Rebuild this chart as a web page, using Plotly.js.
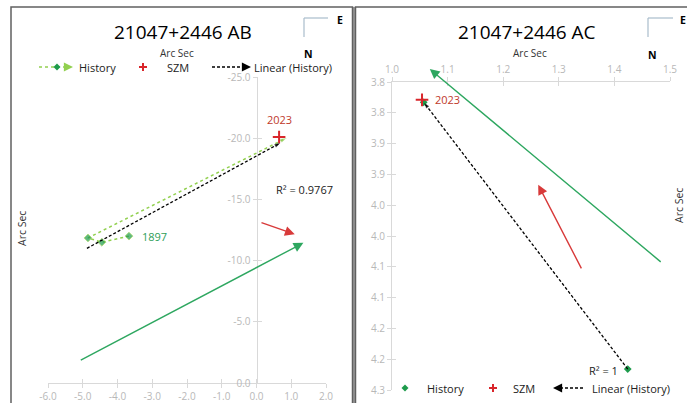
<!DOCTYPE html>
<html><head><meta charset="utf-8">
<script src="https://cdn.plot.ly/plotly-3.0.1.min.js"></script>
<style>html,body{margin:0;padding:0;background:#fff}</style>
</head><body><div id="chart" style="width:687px;height:403px"></div>
<script>
// ---------- DATA: 21047+2446 AB ----------
const abHistX = [-3.67, -4.45, -4.85, 0.85];
const abHistY = [-12.0, -11.5, -11.85, -20.0];
const abSzmX = [0.65];
const abSzmY = [-20.1];
const abTrendX = [-4.88, 0.68];
const abTrendY = [-11.0, -19.6];
const abRedArrowX = [0.1, 1.1];
const abRedArrowY = [-13.15, -12.15];
const abGreenArrowX = [-5.1, 1.35];
const abGreenArrowY = [-1.8, -11.45];
const abXTickVals = [-6, -5, -4, -3, -2, -1, 0, 1, 2];
const abXTickText = ['-6.0', '-5.0', '-4.0', '-3.0', '-2.0', '-1.0', '0.0', '1.0', '2.0'];
const abYTickVals = [0, -5, -10, -15, -20, -25];
const abYTickText = ['0.0', '-5.0', '-10.0', '-15.0', '-20.0', '-25.0'];
const abFirstLabel = {text: '1897', x: -3.35, y: -11.95};
const abLastLabel = {text: '2023', x: 0.65, y: -21.5};
const abR2 = {text: 'R² = 0.9767', x: 0.5, y: -15.8};

// ---------- DATA: 21047+2446 AC ----------
const acHistX = [1.424, 1.057];
const acHistY = [4.216, 3.783];
const acSzmX = [1.054];
const acSzmY = [3.779];
const acTrendX = [1.424, 1.058];
const acTrendY = [4.216, 3.784];
const acRedArrowX = [1.342, 1.263];
const acRedArrowY = [4.055, 3.917];
const acGreenArrowX = [1.486, 1.068];
const acGreenArrowY = [4.044, 3.729];
const acXTickVals = [1.0, 1.1, 1.2, 1.3, 1.4, 1.5];
const acXTickText = ['1.0', '1.1', '1.2', '1.3', '1.4', '1.5'];
const acYTickVals = [3.75, 3.80, 3.85, 3.90, 3.95, 4.00, 4.05, 4.10, 4.15, 4.20, 4.25];
const acYTickText = ['3.8', '3.8', '3.9', '3.9', '4.0', '4.0', '4.1', '4.1', '4.2', '4.2', '4.3'];
const acLastLabel = {text: '2023', x: 1.074, y: 3.779};
const acR2 = {text: 'R² = 1', x: 1.351, y: 4.218};

// ---------- STYLE / LAYOUT ----------
const W = 687, H = 403;
const PX = v => v / W, PY = v => 1 - v / H;
const FONT = 'Open Sans, Noto Sans, sans-serif';
const tickGray = '#b8b8b8', axGray = '#d9d9d9';
const dGreen = '#1e9b4c', lGreen = '#92d050', aGreen = '#2ea760', red = '#d9262b', lblRed = '#c0392b';

function arrowHead(xs, ys, color, xa, ya) {
  return {x: xs.slice(-2), y: ys.slice(-2), xaxis: xa, yaxis: ya, mode: 'markers', cliponaxis: false,
    marker: {symbol: 'arrow', size: [0, 6], color: color, angleref: 'previous', line: {width: 0}},
    hoverinfo: 'skip', showlegend: false};
}

const traces = [
  {x: abHistX, y: abHistY, xaxis: 'x', yaxis: 'y', mode: 'lines+markers', name: 'History',
   line: {color: lGreen, dash: 'dot', width: 1.5},
   marker: {symbol: 'diamond', size: [6, 6, 6, 0], color: dGreen}, cliponaxis: false, showlegend: false},
  arrowHead(abHistX, abHistY, '#8fcf5c', 'x', 'y'),
  {x: abSzmX, y: abSzmY, xaxis: 'x', yaxis: 'y', mode: 'markers', name: 'SZM',
   marker: {symbol: 'cross-thin', size: 9, line: {color: red, width: 2}}, cliponaxis: false, showlegend: false},
  {x: abTrendX, y: abTrendY, xaxis: 'x', yaxis: 'y', mode: 'lines', name: 'Linear (History)',
   line: {color: '#000', dash: '3px,2px', width: 1.3}, showlegend: false},
  arrowHead(abTrendX, abTrendY, '#000', 'x', 'y'),

  {x: acHistX, y: acHistY, xaxis: 'x2', yaxis: 'y2', mode: 'markers', name: 'History',
   marker: {symbol: 'diamond', size: 6, color: dGreen}, cliponaxis: false, showlegend: false},
  {x: acSzmX, y: acSzmY, xaxis: 'x2', yaxis: 'y2', mode: 'markers', name: 'SZM',
   marker: {symbol: 'cross-thin', size: 9, line: {color: red, width: 2}}, cliponaxis: false, showlegend: false},
  {x: acTrendX, y: acTrendY, xaxis: 'x2', yaxis: 'y2', mode: 'lines', name: 'Linear (History)',
   line: {color: '#000', dash: '3px,2px', width: 1.3}, showlegend: false},
  arrowHead(acTrendX, acTrendY, '#000', 'x2', 'y2'),
  // dummy traces for the overlay (inner tick) axes
  {x: [], y: [], xaxis: 'x3', yaxis: 'y3', showlegend: false},
  {x: [], y: [], xaxis: 'x4', yaxis: 'y4', showlegend: false}
];

const baseAx = {showgrid: false, zeroline: false, showline: true, linecolor: axGray, linewidth: 1,
  ticks: 'outside', ticklen: 4, tickcolor: axGray, tickwidth: 1, tickmode: 'array',
  tickfont: {family: FONT, size: 10, color: tickGray}, fixedrange: true};
const innerAx = {showgrid: false, zeroline: false, showline: false, ticks: 'inside', ticklen: 4,
  tickcolor: axGray, tickwidth: 1, tickmode: 'array', showticklabels: false, fixedrange: true};

const abXDom = [PX(48), PX(326)], abYDom = [PY(383), PY(77)];
const abYPos = abXDom[0] + (abXDom[1] - abXDom[0]) * (0 - (-6)) / 8;
const acXDom = [PX(392), PX(670)], acYDom = [PY(390), PY(82)];

function ann(text, x, y, opts) {
  return Object.assign({text: text, x: x, y: y, xref: 'paper', yref: 'paper', showarrow: false,
    font: {family: FONT, size: 11, color: '#222'}, xanchor: 'center', yanchor: 'middle'}, opts || {});
}
function solidArrow(xs, ys, color, xr, yr) {
  return {x: xs[1], y: ys[1], ax: xs[0], ay: ys[0], xref: xr, yref: yr, axref: xr, ayref: yr,
    text: '', showarrow: true, arrowhead: 2, arrowsize: 1.4, arrowwidth: 1.4, arrowcolor: color,
    standoff: 0, startstandoff: 0};
}
function legArrow(xTip, y, dx, color) {
  return {x: PX(xTip), y: PY(y), xref: 'paper', yref: 'paper', ax: dx, ay: 0, text: '',
    showarrow: true, arrowhead: 2, arrowsize: 1.3, arrowwidth: 1.4, arrowcolor: color, standoff: 0};
}
function diamond(cx, cy, c) {
  return {type: 'path', xref: 'paper', yref: 'paper', fillcolor: c, line: {width: 0},
    path: `M${PX(cx)},${PY(cy - 3.5)} L${PX(cx + 3.5)},${PY(cy)} L${PX(cx)},${PY(cy + 3.5)} L${PX(cx - 3.5)},${PY(cy)} Z`};
}
function line(x0, y0, x1, y1, color, width, dash) {
  return {type: 'line', xref: 'paper', yref: 'paper', x0: PX(x0), y0: PY(y0), x1: PX(x1), y1: PY(y1),
    line: {color: color, width: width, dash: dash || 'solid'}};
}
function cross(cx, cy) {
  return [line(cx - 4, cy, cx + 4, cy, red, 2), line(cx, cy - 4, cx, cy + 4, red, 2)];
}

const shapes = [
  // frames
  {type: 'rect', xref: 'paper', yref: 'paper', x0: PX(352), x1: PX(356), y0: -0.05, y1: PY(7),
   fillcolor: '#9a9a9a', line: {width: 0}, layer: 'below'},
  {type: 'rect', xref: 'paper', yref: 'paper', x0: PX(11), x1: PX(352.5), y0: -0.05, y1: PY(7),
   line: {color: '#606060', width: 1.5}, layer: 'below'},
  {type: 'rect', xref: 'paper', yref: 'paper', x0: PX(355.5), x1: 1.05, y0: -0.05, y1: PY(7),
   line: {color: '#606060', width: 1.5}, layer: 'below'},
  // compass AB
  line(304, 18, 328, 18, '#a9bccb', 1.2), line(304, 18, 304, 37, '#a9bccb', 1.2),
  // compass AC
  line(648, 18, 673, 18, '#a9bccb', 1.2), line(648, 18, 648, 37, '#a9bccb', 1.2),
  // legend AB
  line(39, 67, 67, 67, lGreen, 1.5, 'dot'), diamond(57, 67, dGreen),
  ...cross(143, 67),
  line(212, 67, 245, 67, '#000', 1.3, '3px,2px'),
  // legend AC
  diamond(405, 388, dGreen),
  ...cross(493, 388),
  line(560, 388, 584, 388, '#000', 1.3, '3px,2px')
];

const annotations = [
  ann('21047+2446 AB', PX(183), PY(32), {font: {family: FONT, size: 19, color: '#000'}}),
  ann('21047+2446 AC', PX(527), PY(32), {font: {family: FONT, size: 19, color: '#000'}}),
  ann('Arc Sec', PX(177), PY(53), {font: {family: FONT, size: 10, color: '#333'}}),
  ann('Arc Sec', PX(530), PY(53), {font: {family: FONT, size: 10, color: '#333'}}),
  ann('Arc Sec', PX(22), PY(229), {textangle: -90, font: {family: FONT, size: 10.5, color: '#333'}}),
  ann('Arc Sec', PX(679), PY(206), {textangle: -90, font: {family: FONT, size: 10.5, color: '#333'}}),
  ann('<b>E</b>', PX(340), PY(20), {font: {family: FONT, size: 10.5, color: '#000'}}),
  ann('<b>N</b>', PX(308), PY(54), {font: {family: FONT, size: 10.5, color: '#000'}}),
  ann('<b>E</b>', PX(683), PY(20), {font: {family: FONT, size: 10.5, color: '#000'}}),
  ann('<b>N</b>', PX(652), PY(55), {font: {family: FONT, size: 10.5, color: '#000'}}),
  // legend AB
  legArrow(73, 67, -6, lGreen),
  ann('History', PX(77), PY(67), {xanchor: 'left'}),
  ann('SZM', PX(165), PY(67), {xanchor: 'left'}),
  legArrow(251, 67, -7, '#000'),
  ann('Linear (History)', PX(252), PY(67), {xanchor: 'left'}),
  // legend AC
  ann('History', PX(425), PY(388), {xanchor: 'left'}),
  ann('SZM', PX(511), PY(388), {xanchor: 'left'}),
  legArrow(553, 388, 7, '#000'),
  ann('Linear (History)', PX(590), PY(388), {xanchor: 'left'}),
  // data arrows
  solidArrow(abGreenArrowX, abGreenArrowY, aGreen, 'x', 'y'),
  solidArrow(abRedArrowX, abRedArrowY, '#d83a3a', 'x', 'y'),
  solidArrow(acGreenArrowX, acGreenArrowY, aGreen, 'x2', 'y2'),
  solidArrow(acRedArrowX, acRedArrowY, '#d83a3a', 'x2', 'y2'),
  // data labels
  {text: abFirstLabel.text, x: abFirstLabel.x, y: abFirstLabel.y, xref: 'x', yref: 'y', showarrow: false,
   xanchor: 'left', font: {family: FONT, size: 11, color: '#2e9e58'}},
  {text: abLastLabel.text, x: abLastLabel.x, y: abLastLabel.y, xref: 'x', yref: 'y', showarrow: false,
   font: {family: FONT, size: 11, color: lblRed}},
  {text: abR2.text, x: abR2.x, y: abR2.y, xref: 'x', yref: 'y', showarrow: false, xanchor: 'left',
   font: {family: FONT, size: 11, color: '#222'}},
  {text: acLastLabel.text, x: acLastLabel.x, y: acLastLabel.y, xref: 'x2', yref: 'y2', showarrow: false,
   xanchor: 'left', font: {family: FONT, size: 11, color: lblRed}},
  {text: acR2.text, x: acR2.x, y: acR2.y, xref: 'x2', yref: 'y2', showarrow: false, xanchor: 'left',
   font: {family: FONT, size: 11, color: '#222'}}
];

const layout = {
  width: W, height: H, margin: {l: 0, r: 0, t: 0, b: 0},
  paper_bgcolor: '#fff', plot_bgcolor: 'rgba(0,0,0,0)', showlegend: false,
  font: {family: FONT},
  xaxis: Object.assign({}, baseAx, {domain: abXDom, range: [-6, 2], anchor: 'y',
    tickvals: abXTickVals, ticktext: abXTickText}),
  yaxis: Object.assign({}, baseAx, {domain: abYDom, range: [0, -25], anchor: 'free', position: abYPos,
    tickvals: abYTickVals, ticktext: abYTickText}),
  xaxis3: Object.assign({}, innerAx, {overlaying: 'x', range: [-6, 2], anchor: 'y3', tickvals: abXTickVals}),
  yaxis3: Object.assign({}, innerAx, {overlaying: 'y', range: [0, -25], anchor: 'free', position: abYPos,
    tickvals: abYTickVals}),
  xaxis2: Object.assign({}, baseAx, {domain: acXDom, range: [1.0, 1.5], anchor: 'y2', side: 'top',
    tickvals: acXTickVals, ticktext: acXTickText}),
  yaxis2: Object.assign({}, baseAx, {domain: acYDom, range: [4.25, 3.75], anchor: 'x2',
    tickvals: acYTickVals, ticktext: acYTickText}),
  xaxis4: Object.assign({}, innerAx, {overlaying: 'x2', range: [1.0, 1.5], anchor: 'y4', side: 'top',
    tickvals: acXTickVals}),
  yaxis4: Object.assign({}, innerAx, {overlaying: 'y2', range: [4.25, 3.75], anchor: 'x4',
    tickvals: acYTickVals}),
  shapes: shapes,
  annotations: annotations
};

Plotly.newPlot('chart', traces, layout, {displayModeBar: false, staticPlot: true});
</script>
</body></html>
